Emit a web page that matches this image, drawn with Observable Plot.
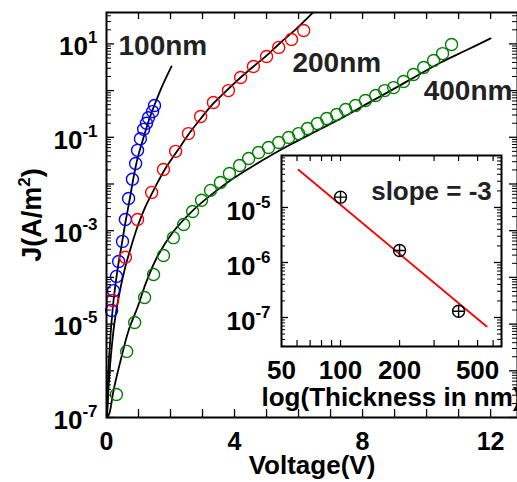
<!DOCTYPE html>
<html><head><meta charset="utf-8">
<script src="https://cdn.jsdelivr.net/npm/d3@7"></script>
<script src="https://cdn.jsdelivr.net/npm/@observablehq/plot@0.6"></script>
<style>
html,body{margin:0;padding:0;overflow:hidden;background:#fff;width:517px;height:482px}
#wrap{position:relative;width:517px;height:482px;overflow:hidden}
#main{position:absolute;left:0;top:0}
#inset{position:absolute;left:200px;top:140px;width:330px;height:280px}
</style></head><body><div id="wrap"><div id="main"></div><div id="inset"></div></div>
<script>
// ---------- data ----------
// 100 nm device (blue circles)
const v100 = [0.16,0.22,0.31,0.38,0.50,0.59,0.69,0.81,0.91,0.97,1.06,1.16,1.25,1.31,1.44,1.50];
const j100 = [1.95e-5,5.2e-5,1.05e-4,2.19e-4,5.9e-4,1.74e-3,4.9e-3,0.0126,0.0275,0.0525,0.0933,0.148,0.200,0.263,0.355,0.479];
// 200 nm device (red circles)
const v200 = [0.19,0.59,0.97,1.41,1.78,2.16,2.56,2.94,3.34,3.81,4.19,4.59,5.00,5.38,5.78,6.16];
const j200 = [3.2e-5,2.7e-4,1.74e-3,6.6e-3,0.0204,0.050,0.120,0.279,0.556,1.0,1.91,3.28,5.37,8.4,12.4,19.4];
// 400 nm device (green circles)
const v400 = [0.31,0.63,0.88,1.19,1.47,1.78,2.09,2.41,2.69,2.97,3.25,3.56,3.84,4.16,4.44,4.75,5.06,5.38,5.69,6.00,6.28,6.59,6.88,7.19,7.47,7.78,8.09,8.41,8.69,8.97,9.28,9.59,9.91,10.22,10.50,10.78];
const j400 = [3.1e-7,2.6e-6,1.08e-5,3.7e-5,1.15e-4,2.95e-4,7.1e-4,1.36e-3,2.58e-3,4.5e-3,7.3e-3,0.0108,0.0168,0.0249,0.0351,0.0473,0.0605,0.0774,0.099,0.120,0.154,0.198,0.253,0.308,0.394,0.48,0.614,0.785,1.0,1.16,1.57,2.21,3.12,4.41,6.2,9.7];
// fit curves (black lines)
const fit100V = [0.01,0.03,0.06,0.125,0.22,0.34,0.47,0.59,0.72,0.84,0.97,1.16,1.34,1.53,1.75,2.03];
const fit100J = [1e-7,2.3e-7,1.0e-6,5.7e-6,3.2e-5,1.4e-4,4.8e-4,1.5e-3,4.5e-3,0.0132,0.0354,0.100,0.25,0.556,1.29,3.3];
const fit200V = [0.016,0.06,0.125,0.25,0.41,0.59,0.78,0.97,1.22,1.53,1.84,2.22,2.56,2.94,3.34,3.75,4.19,4.59,5.00,5.44,5.91,6.44];
const fit200J = [1e-7,3.8e-7,1.66e-6,1.08e-5,4.8e-5,1.71e-4,4.8e-4,1.23e-3,3.3e-3,8.8e-3,0.0215,0.052,0.115,0.25,0.53,1.0,1.91,3.28,5.6,10.7,20.4,46];
const fit400V = [0.016,0.09,0.22,0.44,0.69,0.97,1.25,1.59,2.09,2.63,3.16,3.78,4.50,5.13,5.75,6.53,7.31,8.09,8.88,9.66,10.44,11.22,12.00];
const fit400J = [1e-7,1.22e-7,3.8e-7,1.66e-6,7.3e-6,2.3e-5,8.2e-5,2.8e-4,9.6e-4,2.45e-3,5.1e-3,0.0108,0.0225,0.0408,0.070,0.133,0.25,0.50,1.0,2.0,4.0,7.2,13.1];
// curve labels
const curveLabels = ["100nm","200nm","400nm"];
const labelV = [0.375, 5.81, 9.91];
const labelJ = [9.2, 3.9, 0.96];
// main axes
const xTickLabels = [0,4,8,12];
const yTickExponents = [1,-1,-3,-5,-7];
const xTitle = "Voltage(V)";
const yTitle = "J(A/m2)";
// inset
const thickness = [100,200,400];
const jInset = [1.54e-5,1.65e-6,1.30e-7];
const fitThickness = [61,556];
const fitJInset = [4.84e-5,6.86e-8];
const insetXTickLabels = [50,100,200,500];
const insetYTickExponents = [-5,-6,-7];
const insetXTitle = "log(Thickness in nm)";
const slopeLabel = "slope = -3";
const slopeAt = {t: 291, j: 1.94e-5};

// ---------- helpers ----------
const FONT = '"Liberation Sans", Arial, Helvetica, sans-serif';
const SVGNS = "http://www.w3.org/2000/svg";
const rows = (V, J) => V.map((v, i) => ({V: v, J: J[i]}));
const logMinor = (lo, hi, e0, e1) => {
  const out = [];
  for (let e = e0; e <= e1; e++) for (let k = 2; k <= 9; k++) {
    const v = k * Math.pow(10, e);
    if (v > lo && v < hi) out.push(v);
  }
  return out;
};
function superscript(svg, ariaLabel, size, shift) {
  svg.querySelectorAll(`g[aria-label="${ariaLabel}"] text`).forEach(t => {
    const e = t.textContent;
    t.textContent = "10";
    const ts = document.createElementNS(SVGNS, "tspan");
    ts.setAttribute("font-size", size);
    ts.setAttribute("dy", shift);
    ts.textContent = e;
    t.appendChild(ts);
  });
}

// ---------- main chart ----------
const W = 517, H = 482, mL = 106, mT = 12, mB = 65, mR = 0;
const pw = W - mL - mR, ph = H - mT - mB;
const yDomain = [1e-7, 47];
const yMajor = d3.range(-7, 2).map(e => Math.pow(10, e));
const yMinor = logMinor(yDomain[0], yDomain[1], -7, 1);
const xTicksAll = d3.range(1, 13);

const lineStyle = {x: "V", y: "J", stroke: "black", strokeWidth: 1.8, curve: "catmull-rom", clip: true};
const dotStyle = {x: "V", y: "J", r: 6, strokeWidth: 1.4, fill: "none"};

const main = Plot.plot({
  width: W, height: H,
  marginLeft: mL, marginTop: mT, marginBottom: mB, marginRight: mR,
  x: {domain: [0, 12.84]},
  y: {type: "log", domain: yDomain},
  style: {fontFamily: FONT, fontWeight: "bold", background: "white", maxWidth: "none", overflow: "visible", color: "black"},
  marks: [
    Plot.line(rows(fit100V, fit100J), lineStyle),
    Plot.line(rows(fit200V, fit200J), lineStyle),
    Plot.line(rows(fit400V, fit400J), lineStyle),
    Plot.dot(rows(v100, j100), {...dotStyle, stroke: "#0000ff"}),
    Plot.dot(rows(v200, j200), {...dotStyle, stroke: "#ff0000"}),
    Plot.dot(rows(v400, j400), {...dotStyle, stroke: "#008000"}),
    // inward ticks
    Plot.tickY(yMajor, {y: d => d, insetRight: pw - 8, strokeWidth: 1.3}),
    Plot.tickY(yMinor, {y: d => d, insetRight: pw - 5, strokeWidth: 1}),
    Plot.tickY(yMajor, {y: d => d, insetLeft: pw - 8, strokeWidth: 1.3}),
    Plot.tickY(yMinor, {y: d => d, insetLeft: pw - 5, strokeWidth: 1}),
    Plot.tickX(xTicksAll, {x: d => d, insetTop: ph - 8, strokeWidth: 1.3}),
    Plot.tickX(xTicksAll, {x: d => d, insetBottom: ph - 7, strokeWidth: 1.3}),
    Plot.frame({stroke: "black", strokeWidth: 2}),
    Plot.axisX({ticks: xTickLabels, tickSize: 0, tickPadding: 15, fontSize: 25, fontWeight: "bold", label: null, tickFormat: d => String(d)}),
    Plot.axisY({ticks: yTickExponents.map(e => Math.pow(10, e)), tickSize: 0, tickPadding: 9, fontSize: 26, fontWeight: "bold", label: null, dy: 3,
      tickFormat: d => String(Math.round(Math.log10(d)))}),
    Plot.text([xTitle], {frameAnchor: "bottom", lineAnchor: "middle", textAnchor: "middle", dy: 48, fontSize: 26, fontWeight: "bold"}),
    Plot.text([yTitle], {frameAnchor: "left", lineAnchor: "middle", textAnchor: "middle", dx: -74, rotate: -90, fontSize: 27, fontWeight: "bold"}),
    Plot.text(curveLabels, {x: (d, i) => labelV[i], y: (d, i) => labelJ[i], text: d => d, textAnchor: "start", fontSize: 28, fontWeight: "bold", fill: "#222"})
  ]
});
superscript(main, "y-axis tick label", 17, -12);
// superscript "2" in the y title
main.querySelectorAll("text").forEach(t => {
  if (t.textContent !== yTitle) return;
  t.textContent = "J(A/m";
  const s = document.createElementNS(SVGNS, "tspan");
  s.setAttribute("font-size", 17); s.setAttribute("dy", -11); s.textContent = "2";
  const c = document.createElementNS(SVGNS, "tspan");
  c.setAttribute("dy", 11); c.textContent = ")";
  t.appendChild(s); t.appendChild(c);
});
document.getElementById("main").appendChild(main);

// ---------- inset ----------
const iW = 330, iH = 280, imL = 81, imT = 15, imR = 29, imB = 74;
const ipw = iW - imL - imR, iph = iH - imT - imB;
const iyDomain = [2.97e-8, 8.81e-5];
const iyMajor = [1e-5, 1e-6, 1e-7];
const iyMinor = logMinor(iyDomain[0], iyDomain[1], -8, -5);
const ixTicks = [60,70,80,90,100,200,300,400,500,600];

const markerSymbol = {
  draw(context, size) {
    const r = Math.sqrt(size / Math.PI);
    context.moveTo(r, 0);
    context.arc(0, 0, r, 0, 2 * Math.PI);
    context.moveTo(-r, 0); context.lineTo(r, 0);
    context.moveTo(0, -r); context.lineTo(0, r);
  }
};

const inset = Plot.plot({
  width: iW, height: iH,
  marginLeft: imL, marginTop: imT, marginRight: imR, marginBottom: imB,
  x: {type: "log", domain: [50, 662]},
  y: {type: "log", domain: iyDomain},
  style: {fontFamily: FONT, fontWeight: "bold", background: "transparent", maxWidth: "none", overflow: "visible", color: "black"},
  marks: [
    Plot.frame({fill: "white", stroke: "none"}),
    Plot.line(rows(fitThickness, fitJInset), {x: "V", y: "J", stroke: "#ff0000", strokeWidth: 1.8}),
    Plot.dot(rows(thickness, jInset), {x: "V", y: "J", r: 6, symbol: markerSymbol, fill: "none", stroke: "black", strokeWidth: 1.4}),
    Plot.tickY(iyMajor, {y: d => d, insetRight: ipw - 7, strokeWidth: 1.3}),
    Plot.tickY(iyMinor, {y: d => d, insetRight: ipw - 4, strokeWidth: 1}),
    Plot.tickY(iyMajor, {y: d => d, insetLeft: ipw - 7, strokeWidth: 1.3}),
    Plot.tickY(iyMinor, {y: d => d, insetLeft: ipw - 4, strokeWidth: 1}),
    Plot.tickX(ixTicks, {x: d => d, insetTop: iph - 6, strokeWidth: 1.2}),
    Plot.tickX(ixTicks, {x: d => d, insetBottom: iph - 6, strokeWidth: 1.2}),
    Plot.frame({stroke: "black", strokeWidth: 2}),
    Plot.axisX({ticks: insetXTickLabels, tickSize: 0, tickPadding: 14, fontSize: 26, fontWeight: "bold", label: null, tickFormat: d => String(d)}),
    Plot.axisY({ticks: insetYTickExponents.map(e => Math.pow(10, e)), tickSize: 0, tickPadding: 11, fontSize: 26, fontWeight: "bold", label: null, dy: 4,
      tickFormat: d => String(Math.round(Math.log10(d)))}),
    Plot.text([insetXTitle], {frameAnchor: "bottom", lineAnchor: "middle", textAnchor: "middle", dy: 51, fontSize: 26, fontWeight: "bold"}),
    Plot.text([slopeLabel], {x: slopeAt.t, y: slopeAt.j, fontSize: 26, fontWeight: "bold", fill: "#222"})
  ]
});
superscript(inset, "y-axis tick label", 17, -12);
document.getElementById("inset").appendChild(inset);
</script></body></html>
